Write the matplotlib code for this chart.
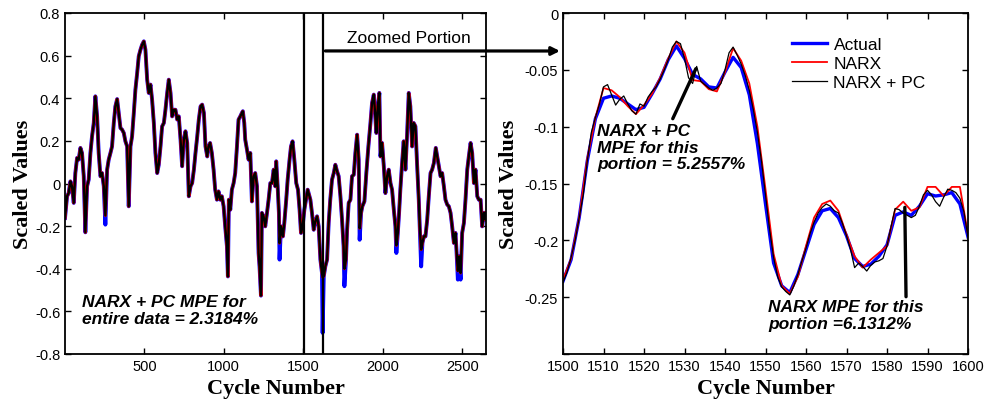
import matplotlib
matplotlib.use("Agg")
import matplotlib.pyplot as plt

plt.rcParams['font.family'] = ['Liberation Sans', 'DejaVu Sans']
plt.rcParams['axes.unicode_minus'] = False

# ---------------- Left panel data (entire data) ----------------
left_cycles = [1, 14, 24, 35, 45, 56, 66, 77, 87, 98, 108, 119, 129, 140, 150, 161, 171, 182, 192, 203,
               213, 224, 234, 245, 255, 266, 276, 287, 297, 308, 318, 329, 339, 350, 360, 371, 381, 392,
               402, 413, 423, 434, 444, 455, 465, 476, 486, 497, 507, 518, 528, 539, 549, 560, 570, 581,
               591, 602, 612, 623, 633, 644, 654, 665, 675, 686, 696, 707, 717, 728, 738, 749, 759, 770,
               780, 791, 801, 812, 822, 833, 843, 854, 864, 875, 885, 896,
               904, 914, 925, 936, 946, 957, 967, 978, 988, 999, 1009, 1020, 1026, 1032, 1041, 1051,
               1062, 1072, 1083, 1093, 1104, 1114, 1120, 1129, 1135, 1146, 1156, 1167, 1177, 1188, 1198,
               1209, 1219, 1225, 1234, 1240, 1250, 1261, 1272, 1282, 1293, 1303, 1314, 1324, 1330, 1339,
               1347, 1351, 1360, 1372, 1381, 1393, 1402, 1414, 1423, 1433, 1444, 1456, 1467, 1477, 1486,
               1496, 1507, 1519, 1528, 1536, 1545, 1555, 1566, 1576, 1587, 1597, 1608, 1618, 1622, 1629,
               1639, 1650, 1660, 1670, 1681, 1692, 1702, 1713, 1723, 1734, 1744, 1754, 1759,
               1769, 1776, 1786, 1797, 1807, 1818, 1828, 1839, 1849, 1855, 1864, 1872, 1885, 1897, 1910,
               1923, 1933, 1944, 1952, 1960, 1969, 1979, 1986, 1996, 2007, 2017, 2028, 2038, 2049, 2059,
               2070, 2080, 2086, 2095, 2103, 2111, 2122, 2132, 2143, 2153, 2164, 2174, 2185, 2195, 2206,
               2216, 2227, 2233, 2242, 2250, 2259, 2269, 2280, 2290, 2301, 2311, 2322, 2334, 2343, 2353,
               2364, 2374, 2385, 2395, 2406, 2416, 2427, 2437, 2448, 2458, 2464, 2473, 2481, 2490, 2500,
               2511, 2521, 2532, 2542, 2553, 2563, 2574, 2584, 2595, 2605, 2616, 2626, 2637, 2647, 2650]

left_actual = [-0.162, -0.060, -0.045, 0.010, -0.013, -0.091, 0.049, 0.120, 0.112, 0.167, 0.143, 0.034,
               -0.229, -0.013, 0.018, 0.143, 0.221, 0.284, 0.409, 0.315, 0.143, 0.034, 0.049, -0.013,
               -0.193, 0.065, 0.112, 0.143, 0.174, 0.284, 0.362, 0.396, 0.331, 0.260, 0.253, 0.237,
               0.198, 0.174, -0.107, 0.174, 0.221, 0.331, 0.440, 0.518, 0.597, 0.628, 0.651, 0.667,
               0.628, 0.487, 0.425, 0.464, 0.393, 0.284, 0.143, 0.049, 0.088, 0.174, 0.268, 0.284,
               0.346, 0.425, 0.487, 0.425, 0.315, 0.346, 0.346, 0.300, 0.315, 0.206, 0.081, 0.206,
               0.245, 0.190, -0.060, -0.013, 0.002, 0.065, 0.143, 0.221, 0.300, 0.362, 0.370, 0.331,
               0.174, 0.127,
               0.174, 0.190, 0.143, 0.065, -0.029, -0.076, -0.037, -0.076, -0.060, -0.107, -0.201,
               -0.295, -0.436, -0.076, -0.123, -0.029, 0.002, 0.049, 0.174, 0.300, 0.315, 0.331, 0.339,
               0.284, 0.206, 0.159, 0.112, 0.143, -0.084, 0.034, 0.049, -0.013, -0.326, -0.389, -0.526,
               -0.138, -0.154, -0.201, -0.138, -0.076, 0.002, 0.002, 0.065, -0.013, 0.104, -0.013,
               -0.138, -0.357, -0.201, -0.248, -0.185, -0.076, 0.018, 0.112, 0.174, 0.198, 0.112, 0.002,
               -0.029, -0.123, -0.232, -0.201, -0.123, -0.068, -0.029, -0.052, -0.076, -0.138, -0.217,
               -0.177, -0.154, -0.201, -0.357, -0.420, -0.701, -0.436, -0.389, -0.357, -0.185, -0.076,
               0.018, 0.049, 0.088, 0.057, 0.034, -0.060, -0.170, -0.295, -0.482,
               -0.357, -0.217, -0.091, -0.076, 0.034, 0.041, 0.143, 0.229, 0.112, -0.264, -0.138,
               -0.107, -0.084, 0.049, 0.174, 0.284, 0.378, 0.417, 0.331, 0.237, 0.362, 0.425, 0.127,
               0.190, 0.081, -0.045, 0.034, 0.065, 0.002, -0.029, -0.123, -0.201, -0.326, -0.232,
               -0.138, -0.029, 0.096, 0.198, 0.065, 0.221, 0.425, 0.362, 0.174, 0.284, 0.268, 0.096,
               -0.076, -0.201, -0.389, -0.279, -0.248, -0.248, -0.170, -0.060, 0.049, 0.065, 0.096,
               0.167, 0.127, 0.081, 0.034, 0.049, -0.013, -0.076, -0.099, -0.107, -0.138, -0.201,
               -0.279, -0.232, -0.310, -0.451, -0.342, -0.451, -0.232, -0.185, -0.076, 0.065, 0.127,
               0.190, 0.143, 0.002, 0.065, -0.060, -0.076, -0.076, -0.201, -0.138, -0.170, -0.138]

# cycles where the model predictions stay shallower than the actual dips
left_model_dips = {255: -0.15, 1351: -0.28, 1622: -0.44, 1759: -0.40, 1855: -0.21,
                   2086: -0.29, 2242: -0.31, 2473: -0.41, 2490: -0.42}
left_narx = [left_model_dips.get(c, v) for c, v in zip(left_cycles, left_actual)]
left_narx_pc = [left_model_dips.get(c, v) for c, v in zip(left_cycles, left_actual)]

zoom_start, zoom_end = 1502, 1626

# ---------------- Right panel data (zoomed portion) ----------------
right_cycles = list(range(1500, 1601, 2))
right_actual = [-0.236, -0.217, -0.180, -0.130, -0.093, -0.075, -0.073, -0.075, -0.080, -0.085,
                -0.083, -0.071, -0.058, -0.041, -0.029, -0.040, -0.054, -0.058, -0.065, -0.066,
                -0.052, -0.039, -0.048, -0.072, -0.115, -0.168, -0.220, -0.240, -0.246, -0.230,
                -0.208, -0.186, -0.174, -0.172, -0.180, -0.196, -0.216, -0.223, -0.221, -0.214,
                -0.204, -0.178, -0.175, -0.178, -0.170, -0.159, -0.161, -0.160, -0.158, -0.168,
                -0.197]
right_narx = [-0.235, -0.216, -0.180, -0.128, -0.092, -0.066, -0.068, -0.074, -0.082, -0.089,
              -0.081, -0.071, -0.057, -0.040, -0.025, -0.035, -0.059, -0.060, -0.067, -0.069,
              -0.052, -0.031, -0.042, -0.062, -0.100, -0.155, -0.212, -0.240, -0.247, -0.232,
              -0.205, -0.180, -0.168, -0.165, -0.174, -0.195, -0.214, -0.224, -0.217, -0.211,
              -0.205, -0.173, -0.166, -0.174, -0.171, -0.153, -0.153, -0.161, -0.153, -0.153,
              -0.195]
right_pc_cycles = list(range(1500, 1601))
right_narx_pc = [-0.237, -0.228, -0.215, -0.200, -0.180, -0.160, -0.130, -0.105, -0.092, -0.080,
                 -0.065, -0.063, -0.072, -0.081, -0.076, -0.073, -0.080, -0.086, -0.089, -0.080,
                 -0.082, -0.074, -0.069, -0.065, -0.058, -0.050, -0.041, -0.030, -0.025, -0.027,
                 -0.040, -0.057, -0.062, -0.047, -0.060, -0.063, -0.066, -0.068, -0.066, -0.062,
                 -0.050, -0.035, -0.030, -0.037, -0.045, -0.055, -0.068, -0.085, -0.105, -0.130,
                 -0.160, -0.190, -0.215, -0.232, -0.241, -0.245, -0.248, -0.240, -0.230, -0.218,
                 -0.207, -0.194, -0.184, -0.176, -0.171, -0.168, -0.170, -0.174, -0.176, -0.185,
                 -0.196, -0.208, -0.224, -0.220, -0.223, -0.227, -0.222, -0.219, -0.218, -0.216,
                 -0.205, -0.188, -0.172, -0.173, -0.176, -0.178, -0.180, -0.178, -0.170, -0.160,
                 -0.156, -0.160, -0.166, -0.170, -0.162, -0.155, -0.156, -0.158, -0.163, -0.175,
                 -0.197]

left_yticks = [-0.8, -0.6, -0.4, -0.2, 0, 0.2, 0.4, 0.6, 0.8]
left_yticklabels = ['-0.8', '-0.6', '-0.4', '-0.2', '0', '0.2', '0.4', '0.6', '0.8']
left_xticks = [500, 1000, 1500, 2000, 2500]
right_yticks = [-0.3, -0.25, -0.2, -0.15, -0.1, -0.05, 0]
right_yticklabels = ['', '-0.25', '-0.2', '-0.15', '-0.1', '-0.05', '0']
right_xticks = list(range(1500, 1601, 10))

BLUE = '#0000ff'
RED = '#ff0000'
BLACK = '#000000'
label_font = dict(family=['Liberation Serif', 'DejaVu Serif'], weight='bold', size=16)
note_font = dict(weight='bold', style='italic', size=12.5)

fig = plt.figure(figsize=(9.84, 4.02), dpi=100)
axL = fig.add_axes([65/984, 47/402, 421/984, 341/402])
axR = fig.add_axes([563/984, 47/402, 405/984, 341/402])

for ax in (axL, axR):
    ax.tick_params(direction='in', top=True, right=True, labelsize=10.5, length=4, width=1)
    for s in ax.spines.values():
        s.set_linewidth(1.3)

# left panel
axL.plot(left_cycles, left_actual, color=BLUE, lw=2.8)
axL.plot(left_cycles, left_narx, color=RED, lw=2.2)
axL.plot(left_cycles, left_narx_pc, color=BLACK, lw=1.7)
axL.axvline(zoom_start, color='black', lw=1.6)
axL.axvline(zoom_end, color='black', lw=1.6)
axL.set_xlim(1, 2650)
axL.set_ylim(-0.8, 0.8)
axL.set_yticks(left_yticks)
axL.set_yticklabels(left_yticklabels)
axL.set_xticks(left_xticks)
axL.set_xlabel('Cycle Number', fontdict=label_font, labelpad=4)
axL.set_ylabel('Scaled Values', fontdict=label_font, labelpad=1)
axL.text(106, -0.52, 'NARX + PC MPE for\nentire data = 2.3184%', va='top', ha='left',
         linespacing=1.12, **note_font)
axL.text(2162, 0.683, 'Zoomed Portion', ha='center', va='center', fontsize=12.5)
axL.annotate('', xy=(560/984, 1 - 52/402), xycoords='figure fraction',
             xytext=(1639, 0.622), textcoords='data',
             arrowprops=dict(arrowstyle='-|>', lw=2.3, color='black', mutation_scale=12,
                             shrinkA=0, shrinkB=0))

# right panel
axR.plot(right_cycles, right_actual, color=BLUE, lw=2.4, label='Actual')
axR.plot(right_cycles, right_narx, color=RED, lw=1.3, label='NARX')
axR.plot(right_pc_cycles, right_narx_pc, color=BLACK, lw=0.9, label='NARX + PC')
axR.set_xlim(1500, 1600)
axR.set_ylim(-0.3, 0)
axR.set_yticks(right_yticks)
axR.set_yticklabels(right_yticklabels)
axR.set_xticks(right_xticks)
axR.set_xlabel('Cycle Number', fontdict=label_font, labelpad=4)
axR.set_ylabel('Scaled Values', fontdict=label_font, labelpad=4)
axR.legend(loc='upper left', bbox_to_anchor=(0.565, 0.93), frameon=False, fontsize=12.5,
           handlelength=2.0, handletextpad=0.4, labelspacing=0.22, borderpad=0, borderaxespad=0)
axR.text(1508.4, -0.097, 'NARX + PC\nMPE for this\nportion = 5.2557%', va='top', ha='left',
         linespacing=1.12, **note_font)
axR.annotate('', xy=(1532.8, -0.049), xytext=(1527.1, -0.093),
             arrowprops=dict(arrowstyle='-', lw=2.4, color='black', shrinkA=0, shrinkB=0))
axR.text(1550.7, -0.252, 'NARX MPE for this\nportion =6.1312%', va='top', ha='left',
         linespacing=1.12, **note_font)
axR.annotate('', xy=(1584.4, -0.171), xytext=(1584.7, -0.2496),
             arrowprops=dict(arrowstyle='-', lw=2.4, color='black', shrinkA=0, shrinkB=0))

fig.savefig('out.png', dpi=100)
